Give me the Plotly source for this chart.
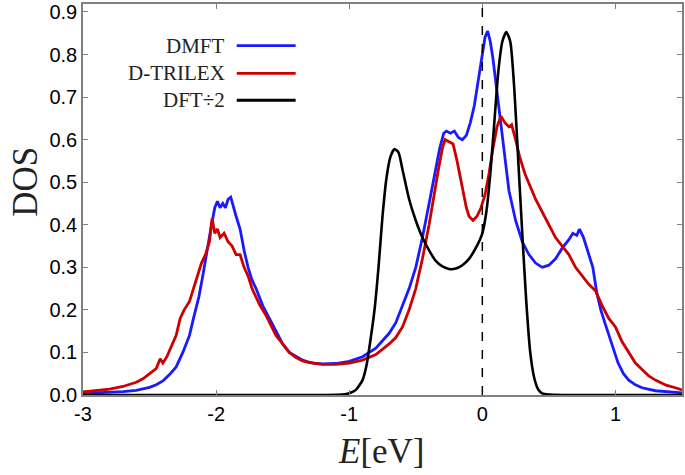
import plotly.graph_objects as go

# ---- data ----
E_dmft = [-3.0, -2.9, -2.8, -2.7, -2.6, -2.5, -2.45, -2.4, -2.35, -2.3, -2.25, -2.2, -2.17, -2.13,
          -2.1, -2.07, -2.04, -2.01, -1.99, -1.97, -1.95, -1.93, -1.91, -1.89, -1.87, -1.85, -1.82,
          -1.79, -1.76, -1.73, -1.7, -1.65, -1.6, -1.55, -1.5, -1.45, -1.4, -1.35, -1.3, -1.25, -1.2,
          -1.1, -1.0, -0.9, -0.8, -0.7, -0.65, -0.6, -0.55, -0.5, -0.45, -0.4, -0.35, -0.32, -0.29,
          -0.27, -0.24, -0.21, -0.18, -0.15, -0.12, -0.09, -0.06, -0.03, 0.0, 0.02, 0.04, 0.06, 0.08,
          0.1, 0.13, 0.16, 0.2, 0.25, 0.3, 0.35, 0.4, 0.45, 0.5, 0.55, 0.6, 0.65, 0.68, 0.71, 0.73,
          0.76, 0.8, 0.83, 0.86, 0.89, 0.92, 0.95, 0.98, 1.02, 1.06, 1.1, 1.15, 1.2, 1.3, 1.4, 1.5]
dos_dmft = [0.004, 0.005, 0.006, 0.008, 0.011, 0.018, 0.024, 0.033, 0.048, 0.066, 0.1, 0.14, 0.18, 0.23,
            0.28, 0.34, 0.39, 0.44, 0.455, 0.44, 0.45, 0.44, 0.46, 0.465, 0.44, 0.42, 0.39,
            0.34, 0.30, 0.27, 0.25, 0.21, 0.18, 0.15, 0.12, 0.10, 0.09, 0.082, 0.077, 0.074, 0.073,
            0.074, 0.079, 0.09, 0.11, 0.145, 0.17, 0.21, 0.25, 0.30, 0.37, 0.45, 0.53, 0.58, 0.615,
            0.62, 0.615, 0.62, 0.605, 0.60, 0.61, 0.64, 0.68, 0.74, 0.80, 0.84, 0.855, 0.83, 0.79,
            0.74, 0.66, 0.58, 0.48, 0.41, 0.36, 0.33, 0.31, 0.30, 0.305, 0.32, 0.345, 0.365, 0.38, 0.375, 0.39,
            0.37, 0.33, 0.30, 0.24, 0.20, 0.17, 0.14, 0.11, 0.075, 0.05, 0.035, 0.024, 0.017, 0.01, 0.007, 0.005]

E_dtrilex = [-3.0, -2.9, -2.8, -2.7, -2.6, -2.55, -2.5, -2.45, -2.42, -2.4, -2.37, -2.33, -2.3, -2.27,
             -2.24, -2.2, -2.17, -2.14, -2.11, -2.08, -2.05, -2.03, -2.01, -1.99, -1.97, -1.94, -1.91,
             -1.88, -1.85, -1.82, -1.79, -1.76, -1.73, -1.7, -1.67, -1.63, -1.6, -1.55, -1.5, -1.45,
             -1.4, -1.35, -1.3, -1.2, -1.1, -1.0, -0.9, -0.8, -0.7, -0.65, -0.6, -0.55, -0.5, -0.45,
             -0.4, -0.37, -0.33, -0.3, -0.28, -0.25, -0.22, -0.19, -0.17, -0.14, -0.12, -0.1, -0.07,
             -0.04, -0.01, 0.02, 0.05, 0.08, 0.11, 0.14, 0.17, 0.2, 0.22, 0.25, 0.28, 0.32, 0.36, 0.4,
             0.45, 0.5, 0.55, 0.6, 0.65, 0.7, 0.75, 0.8, 0.85, 0.9, 0.95, 1.0, 1.05, 1.1, 1.15, 1.2,
             1.25, 1.3, 1.38, 1.45, 1.5]
dos_dtrilex = [0.007, 0.01, 0.014, 0.02, 0.03, 0.038, 0.05, 0.062, 0.085, 0.075, 0.09, 0.12, 0.14, 0.18,
               0.20, 0.22, 0.25, 0.28, 0.31, 0.33, 0.36, 0.415, 0.38, 0.39, 0.37, 0.38, 0.36,
               0.35, 0.33, 0.33, 0.30, 0.28, 0.25, 0.23, 0.21, 0.19, 0.17, 0.14, 0.12, 0.10,
               0.088, 0.08, 0.076, 0.072, 0.072, 0.075, 0.082, 0.095, 0.12, 0.135, 0.16, 0.2, 0.25, 0.32,
               0.40, 0.46, 0.53, 0.58, 0.60, 0.595, 0.59, 0.55, 0.52, 0.47, 0.44, 0.42, 0.41,
               0.42, 0.44, 0.47, 0.52, 0.58, 0.63, 0.655, 0.64, 0.63, 0.635, 0.60, 0.56, 0.52, 0.49, 0.46,
               0.43, 0.40, 0.37, 0.35, 0.33, 0.30, 0.28, 0.26, 0.245, 0.21, 0.18, 0.16, 0.125, 0.10, 0.075, 0.06,
               0.045, 0.035, 0.023, 0.017, 0.012]

E_dft = [-3.0, -1.2, -1.05, -1.0, -0.95, -0.9, -0.87, -0.84, -0.81, -0.78, -0.75, -0.72, -0.69, -0.66,
         -0.63, -0.6, -0.55, -0.5, -0.45, -0.4, -0.35, -0.3, -0.25, -0.2, -0.15, -0.1, -0.05, 0.0,
         0.03, 0.06, 0.09, 0.12, 0.15, 0.18, 0.21, 0.24, 0.27, 0.3, 0.33, 0.36, 0.39, 0.42, 0.45,
         0.5, 0.6, 1.5]
dos_dft_half = [0.0, 0.0, 0.001, 0.004, 0.012, 0.035, 0.07, 0.13, 0.2, 0.3, 0.42, 0.51, 0.56, 0.578,
                0.57, 0.53, 0.46, 0.41, 0.37, 0.34, 0.315, 0.302, 0.296, 0.297, 0.305, 0.32, 0.345, 0.38,
                0.43, 0.52, 0.64, 0.76, 0.83, 0.853, 0.83, 0.72, 0.55, 0.38, 0.22, 0.10, 0.04, 0.013, 0.004,
                0.001, 0.0, 0.0]

x_ticks = [-3, -2, -1, 0, 1]
x_tick_labels = ["-3", "-2", "-1", "0", "1"]
y_ticks = [0.0, 0.1, 0.2, 0.3, 0.4, 0.5, 0.6, 0.7, 0.8, 0.9]

series_names = ["DMFT", "D-TRILEX", "DFT÷2"]
series_colors = ["#1a1aff", "#cc0000", "#000000"]

# ---- figure ----
W, H = 685, 475
L, R, T, B = 83, 2, 1, 80
pw, ph = W - L - R, H - T - B

fig = go.Figure()
fig.add_trace(go.Scatter(x=E_dmft, y=dos_dmft, mode="lines", name=series_names[0],
                         line=dict(color=series_colors[0], width=2.8)))
fig.add_trace(go.Scatter(x=E_dtrilex, y=dos_dtrilex, mode="lines", name=series_names[1],
                         line=dict(color=series_colors[1], width=2.8)))
fig.add_trace(go.Scatter(x=E_dft, y=dos_dft_half, mode="lines", name=series_names[2],
                         line=dict(color=series_colors[2], width=2.6, shape="spline", smoothing=0.6)))

# dashed Fermi level
fig.add_shape(type="line", xref="x", yref="paper", x0=0, x1=0, y0=0, y1=1,
              line=dict(color="black", width=1.5, dash="dash"), layer="above")

# manual legend (text right-aligned, line sample to the right)
def px_to_paper(px, py):
    return (px - L) / pw, (H - B - py) / ph

legend_y_px = [43, 71, 98]
for name, col, ypx in zip(series_names, series_colors, legend_y_px):
    x0, yp = px_to_paper(237, ypx)
    x1, _ = px_to_paper(296, ypx)
    xt, _ = px_to_paper(227, ypx)
    fig.add_shape(type="line", xref="paper", yref="paper", x0=x0, x1=x1, y0=yp, y1=yp,
                  line=dict(color=col, width=2.8))
    fig.add_annotation(xref="paper", yref="paper", x=xt, y=yp, text=name, showarrow=False,
                       xanchor="right", yanchor="middle",
                       font=dict(family="Liberation Serif", size=21, color="#222"))

# axis titles as annotations for exact placement
xa, ya = px_to_paper(382, 452)
fig.add_annotation(xref="paper", yref="paper", x=xa, y=ya, text="<i>E</i>[eV]", showarrow=False,
                   xanchor="center", yanchor="middle",
                   font=dict(family="Liberation Serif", size=35, color="#222"))
xa, ya = px_to_paper(26, 180)
fig.add_annotation(xref="paper", yref="paper", x=xa, y=ya, text="DOS", showarrow=False, textangle=-90,
                   xanchor="center", yanchor="middle",
                   font=dict(family="Liberation Serif", size=35, color="#222"))

axis_common = dict(showline=True, linecolor="#808080", linewidth=1.5, mirror="ticks",
                   ticks="inside", ticklen=5, tickcolor="#808080", tickwidth=1,
                   showgrid=False, zeroline=False, ticklabeloverflow="allow",
                   tickfont=dict(family="Liberation Sans", size=20, color="black"))

fig.update_layout(
    width=W, height=H,
    margin=dict(l=L, r=R, t=T, b=B, pad=0),
    paper_bgcolor="white", plot_bgcolor="white",
    showlegend=False,
    xaxis=dict(range=[-3, 1.5], tickvals=x_ticks, ticktext=x_tick_labels, **axis_common),
    yaxis=dict(range=[0, 0.9187], tickvals=y_ticks, tickformat=".1f", **axis_common),
)

fig.write_html("out.html", config={"displayModeBar": False},
               post_script="document.body.style.margin='0';document.body.style.overflow='hidden';")
